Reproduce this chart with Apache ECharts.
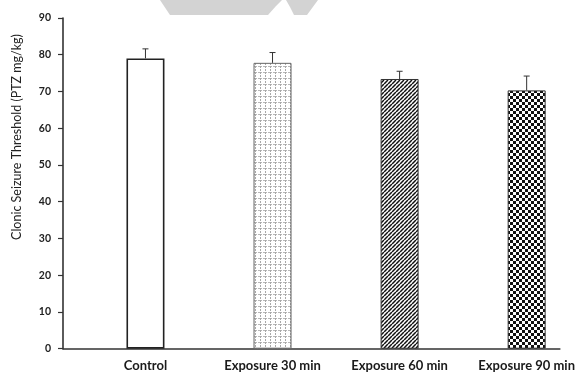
<!DOCTYPE html>
<html>
<head>
<meta charset="utf-8">
<script src="https://cdn.jsdelivr.net/npm/echarts@6/dist/echarts.min.js"></script>
<style>
  html, body { margin: 0; padding: 0; background: #fff; }
  #chart { width: 578px; height: 376px; }
</style>
</head>
<body>
<div id="chart"></div>
<script>
// Clonic seizure threshold by exposure group (mean with upper SEM bar)
const categories = ['Control', 'Exposure 30 min', 'Exposure 60 min', 'Exposure 90 min'];
const thresholdMean = [79.0, 77.8, 73.4, 70.3];
const thresholdSem = [2.6, 2.8, 2.1, 3.9];
const yTicks = [0, 10, 20, 30, 40, 50, 60, 70, 80, 90];
const yAxisTitle = 'Clonic Seizure Threshold (PTZ mg/kg)';

// --- fill patterns -------------------------------------------------------
function makeTile(w, h, draw) {
  const c = document.createElement('canvas');
  c.width = w; c.height = h;
  const ctx = c.getContext('2d');
  ctx.fillStyle = '#fff';
  ctx.fillRect(0, 0, w, h);
  draw(ctx, w, h);
  return c;
}

// light grey grid with broken lines
const gridTile = makeTile(5, 6, (ctx) => {
  ctx.fillStyle = '#a8a8a8';
  for (let y = 0; y < 6; y++) if (y % 3 !== 2) ctx.fillRect(0, y, 1, 1);
  ctx.fillStyle = '#b8b8b8';
  for (let x = 1; x < 5; x++) if (x % 3 !== 2) ctx.fillRect(x, 0, 1, 1);
});

// forward diagonal hatching
const stripeTile = makeTile(4, 4, (ctx, w, h) => {
  ctx.strokeStyle = '#111';
  ctx.lineWidth = 1.5;
  for (let k = -1; k <= 1; k++) {
    ctx.beginPath();
    ctx.moveTo(k * w, h);
    ctx.lineTo(k * w + w, 0);
    ctx.stroke();
  }
});

// checkerboard
const checkTile = makeTile(6, 6, (ctx) => {
  ctx.fillStyle = '#111';
  ctx.fillRect(0, 0, 3, 3);
  ctx.fillRect(3, 3, 3, 3);
});

const barStyles = [
  { color: '#ffffff', borderColor: '#222', borderWidth: 1.6 },
  { color: { image: gridTile, repeat: 'repeat' }, borderColor: '#666', borderWidth: 1 },
  { color: { image: stripeTile, repeat: 'repeat' }, borderColor: '#333', borderWidth: 1 },
  { color: { image: checkTile, repeat: 'repeat' }, borderColor: '#333', borderWidth: 1 }
];

const barData = thresholdMean.map((v, i) => ({ value: [i, v], itemStyle: barStyles[i] }));
const errData = thresholdMean.map((v, i) => [i, v, thresholdSem[i]]);

const chart = echarts.init(document.getElementById('chart'), null, { renderer: 'canvas' });

chart.setOption({
  animation: false,
  backgroundColor: '#fff',
  textStyle: { fontFamily: 'Lato, "Open Sans", sans-serif' },
  grid: { left: 63, right: 0, top: 18, bottom: 27.3, containLabel: false },
  xAxis: {
    type: 'value',
    min: -0.649,
    max: 3.261,
    axisLine: { show: true, onZero: false, lineStyle: { color: '#333', width: 1.6 } },
    axisTick: { show: false },
    splitLine: { show: false },
    axisLabel: {
      customValues: [0, 1, 2, 3],
      formatter: (v) => categories[Math.round(v)],
      margin: 11,
      color: '#1a1a1a',
      fontWeight: 'bold',
      fontSize: 13
    }
  },
  yAxis: {
    type: 'value',
    min: yTicks[0],
    max: yTicks[yTicks.length - 1],
    interval: 10,
    axisLine: { show: true, onZero: false, lineStyle: { color: '#333', width: 1.6 } },
    axisTick: { show: true, inside: false, length: 5, lineStyle: { color: '#333', width: 1.2 } },
    splitLine: { show: false },
    axisLabel: {
      margin: 12,
      color: '#222',
      fontWeight: 'bold',
      fontSize: 10.5
    }
  },
  graphic: [
    // faint grey watermark strip at the top edge
    {
      type: 'polygon', z: -1, silent: true,
      shape: { points: [[160, 0], [282, 0], [276, 6], [268, 15], [170, 15]] },
      style: { fill: '#d3d3d3' }
    },
    {
      type: 'polygon', z: -1, silent: true,
      shape: { points: [[286, 0], [318, 0], [307, 15], [294, 15], [290, 7]] },
      style: { fill: '#d3d3d3' }
    },
    {
      type: 'text',
      x: 17, y: 137,
      rotation: Math.PI / 2,
      style: {
        text: yAxisTitle,
        fill: '#222',
        font: '12.5px Lato, "Open Sans", sans-serif',
        align: 'center',
        verticalAlign: 'middle'
      }
    }
  ],
  series: [
    {
      type: 'bar',
      barWidth: 38,
      data: barData
    },
    {
      type: 'custom',
      z: 3,
      data: errData,
      encode: { x: 0, y: 1 },
      renderItem: (params, api) => {
        const x = api.value(0), m = api.value(1), s = api.value(2);
        const base = api.coord([x, m]);
        const top = api.coord([x, m + s]);
        const style = { stroke: '#333', lineWidth: 1 };
        return {
          type: 'group',
          children: [
            { type: 'line', shape: { x1: base[0], y1: base[1], x2: top[0], y2: top[1] }, style },
            { type: 'line', shape: { x1: top[0] - 3, y1: top[1], x2: top[0] + 3, y2: top[1] }, style }
          ]
        };
      }
    }
  ]
});
</script>
</body>
</html>
